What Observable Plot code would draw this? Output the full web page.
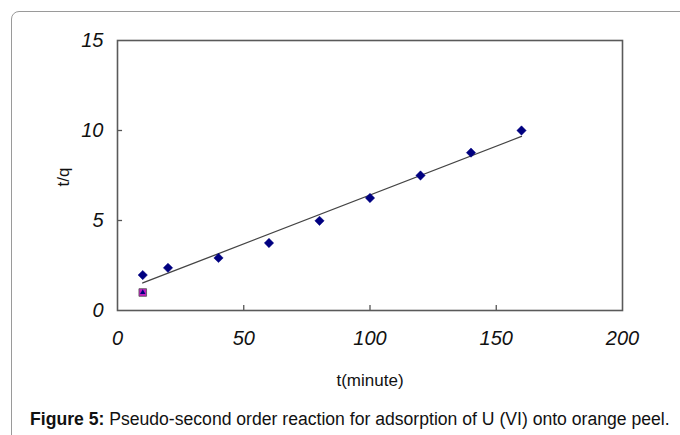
<!DOCTYPE html>
<html>
<head>
<meta charset="utf-8">
<script src="https://cdn.jsdelivr.net/npm/d3@7"></script>
<script src="https://cdn.jsdelivr.net/npm/@observablehq/plot@0.6"></script>
<style>
  html, body { margin: 0; padding: 0; background: #fff; width: 680px; height: 435px; overflow: hidden; position: relative; font-family: "Liberation Sans", Arial, sans-serif; }
  #frame { position: absolute; left: 11px; top: 11px; width: 700px; height: 460px; border: 1px solid #9a9a9a; border-radius: 8px; box-sizing: border-box; z-index: 2; pointer-events: none; }
  #chart { position: absolute; left: 0; top: 0; z-index: 1; }
  #caption { position: absolute; left: 30px; top: 409px; font-size: 17.6px; color: #111; white-space: nowrap; z-index: 1; }
</style>
</head>
<body>
<div id="frame"></div>
<div id="chart"></div>
<div id="caption"><b>Figure 5:</b> Pseudo-second order reaction for adsorption of U (VI) onto orange peel.</div>
<script>
// Data
const timeMin = [10, 20, 40, 60, 80, 100, 120, 140, 160];
const tOverQ = [1.97, 2.37, 2.92, 3.75, 4.98, 6.25, 7.5, 8.77, 10.0];
const extraT = [10];
const extraQ = [1.0];
const fitT = [10, 160];
const fitQ = [1.53, 9.67];
const xTicks = [0, 50, 100, 150, 200];
const yTicks = [0, 5, 10, 15];
const xLabel = "t(minute)";
const yLabel = "t/q";

const pts = timeMin.map((t, i) => ({t, q: tOverQ[i]}));
const extra = extraT.map((t, i) => ({t, q: extraQ[i]}));
const fit = fitT.map((t, i) => ({t, q: fitQ[i]}));

const chart = Plot.plot({
  width: 680,
  height: 395,
  marginLeft: 117,
  marginRight: 58,
  marginTop: 40,
  marginBottom: 85,
  style: {fontFamily: "'Liberation Sans', Arial, sans-serif", background: "transparent"},
  x: {domain: [0, 200]},
  y: {domain: [0, 15]},
  marks: [
    Plot.axisX(xTicks, {tickSize: 0, tickPadding: 20, fontSize: 20, fontStyle: "italic", label: null, fill: "#111"}),
    Plot.axisY(yTicks, {tickSize: 0, tickPadding: 14, fontSize: 20, fontStyle: "italic", label: null, fill: "#111"}),
    Plot.ruleX(xTicks.slice(1, -1), {x: d => d, y1: 0, y2: 0.28, stroke: "#555", strokeWidth: 1.3}),
    Plot.ruleY(yTicks.slice(1, -1), {y: d => d, x1: 0, x2: 2, stroke: "#555", strokeWidth: 1.3}),
    Plot.frame({stroke: "#5a5a5a", strokeWidth: 1.6}),
    Plot.line(fit, {x: "t", y: "q", stroke: "#444", strokeWidth: 1.3}),
    Plot.dot(pts, {x: "t", y: "q", symbol: "diamond2", r: 4.2, fill: "#000080", stroke: "#000080", strokeWidth: 0.5}),
    Plot.dot(extra, {x: "t", y: "q", symbol: "square", r: 4.3, fill: "#c020c0", stroke: "#555", strokeWidth: 0.8}),
    Plot.dot(extra, {x: "t", y: "q", symbol: "triangle2", r: 2.6, fill: "#000080"}),
    Plot.text([xLabel], {frameAnchor: "bottom", dy: 70, fontSize: 17, fill: "#111", lineAnchor: "middle"}),
    Plot.text([yLabel], {frameAnchor: "left", dx: -54, dy: 11, rotate: -90, fontSize: 17, fill: "#111", lineAnchor: "middle"})
  ]
});
document.getElementById("chart").appendChild(chart);
</script>
</body>
</html>
